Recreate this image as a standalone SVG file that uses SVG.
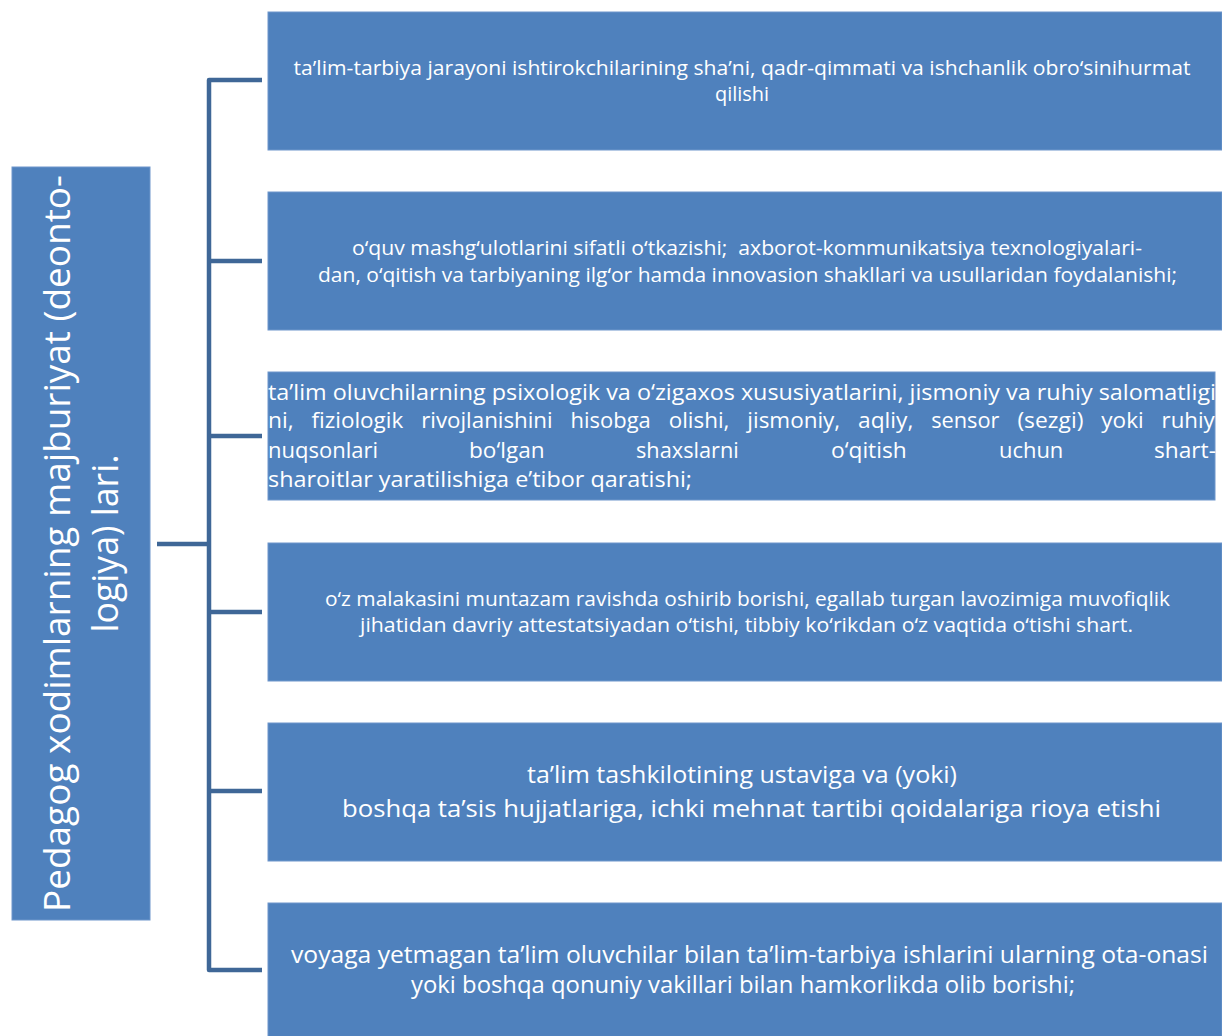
<svg xmlns="http://www.w3.org/2000/svg" width="1222" height="1036" viewBox="0 0 1222 1036">
<style>
.box{fill:#4F81BD;stroke:#6E96CB;stroke-width:1}
.t{font-family:"Open Sans","Liberation Sans",sans-serif;fill:#FFFFFF}
.c{text-anchor:middle}
.w{font-size:22px}
.conn{fill:none;stroke:#3F6797;stroke-width:4.5;stroke-linejoin:round}
</style>
<rect width="1222" height="1036" fill="#FFFFFF"/>
<g id="connectors">
<path class="conn" d="M157,544 H209"/>
<path class="conn" d="M262,80 H209 V970 H262"/>
<path class="conn" d="M209,261 H262"/>
<path class="conn" d="M209,436 H262"/>
<path class="conn" d="M209,612 H262"/>
<path class="conn" d="M209,791 H262"/>
</g>
<g id="root">
<rect class="box" x="12" y="167" width="138" height="753"/>
<text class="t" font-size="37" transform="translate(70,912) rotate(-90)" textLength="737" lengthAdjust="spacingAndGlyphs">Pedagog xodimlarning majburiyat (deonto-</text>
<text class="t c" font-size="37" transform="translate(118,543.5) rotate(-90)" textLength="178" lengthAdjust="spacingAndGlyphs">logiya) lari.</text>
</g>
<g id="n1">
<rect class="box" x="268" y="12" width="954" height="138"/>
<text class="t c" font-size="20" x="742" y="75" textLength="897" lengthAdjust="spacingAndGlyphs">ta’lim-tarbiya jarayoni ishtirokchilarining sha’ni, qadr-qimmati va ishchanlik obro‘sinihurmat</text>
<text class="t c" font-size="20" x="742" y="101" textLength="54" lengthAdjust="spacingAndGlyphs">qilishi</text>
</g>
<g id="n2">
<rect class="box" x="268" y="192" width="954" height="138"/>
<text class="t c" font-size="20" x="747" y="255" textLength="790" lengthAdjust="spacingAndGlyphs">o‘quv mashg‘ulotlarini sifatli o‘tkazishi;&#160; axborot-kommunikatsiya texnologiyalari-</text>
<text class="t c" font-size="20" x="747.5" y="282" textLength="859" lengthAdjust="spacingAndGlyphs">dan, o‘qitish va tarbiyaning ilg‘or hamda innovasion shakllari va usullaridan foydalanishi;</text>
</g>
<g id="n3">
<rect class="box" x="268" y="372" width="947" height="128"/>
<text class="t w" x="268" y="400" textLength="948" lengthAdjust="spacingAndGlyphs">ta’lim oluvchilarning psixologik va o‘zigaxos xususiyatlarini, jismoniy va ruhiy salomatligi</text>
<text class="t w" x="268" y="428" textLength="25.6" lengthAdjust="spacingAndGlyphs">ni,</text>
<text class="t w" x="311.5" y="428" textLength="91.7" lengthAdjust="spacingAndGlyphs">fiziologik</text>
<text class="t w" x="421.2" y="428" textLength="131.5" lengthAdjust="spacingAndGlyphs">rivojlanishini</text>
<text class="t w" x="570.6" y="428" textLength="80.2" lengthAdjust="spacingAndGlyphs">hisobga</text>
<text class="t w" x="668.7" y="428" textLength="60.7" lengthAdjust="spacingAndGlyphs">olishi,</text>
<text class="t w" x="747.3" y="428" textLength="92.9" lengthAdjust="spacingAndGlyphs">jismoniy,</text>
<text class="t w" x="858.1" y="428" textLength="55.2" lengthAdjust="spacingAndGlyphs">aqliy,</text>
<text class="t w" x="931.2" y="428" textLength="68.3" lengthAdjust="spacingAndGlyphs">sensor</text>
<text class="t w" x="1017.4" y="428" textLength="66" lengthAdjust="spacingAndGlyphs">(sezgi)</text>
<text class="t w" x="1101.3" y="428" textLength="42.4" lengthAdjust="spacingAndGlyphs">yoki</text>
<text class="t w" x="1161.6" y="428" textLength="53.1" lengthAdjust="spacingAndGlyphs">ruhiy</text>
<text class="t w" x="268" y="458" textLength="110" lengthAdjust="spacingAndGlyphs">nuqsonlari</text>
<text class="t w" x="469" y="458" textLength="75.6" lengthAdjust="spacingAndGlyphs">bo‘lgan</text>
<text class="t w" x="636" y="458" textLength="102.8" lengthAdjust="spacingAndGlyphs">shaxslarni</text>
<text class="t w" x="831" y="458" textLength="75.7" lengthAdjust="spacingAndGlyphs">o‘qitish</text>
<text class="t w" x="999" y="458" textLength="64.3" lengthAdjust="spacingAndGlyphs">uchun</text>
<text class="t w" x="1154" y="458" textLength="62" lengthAdjust="spacingAndGlyphs">shart-</text>
<text class="t w" x="268" y="487" textLength="424" lengthAdjust="spacingAndGlyphs">sharoitlar yaratilishiga e’tibor qaratishi;</text>
</g>
<g id="n4">
<rect class="box" x="268" y="543" width="954" height="138"/>
<text class="t c" font-size="20.5" x="747.5" y="606" textLength="845" lengthAdjust="spacingAndGlyphs">o‘z malakasini muntazam ravishda oshirib borishi, egallab turgan lavozimiga muvofiqlik</text>
<text class="t c" font-size="20.5" x="746.5" y="632" textLength="773" lengthAdjust="spacingAndGlyphs">jihatidan davriy attestatsiyadan o‘tishi, tibbiy ko‘rikdan o‘z vaqtida o‘tishi shart.</text>
</g>
<g id="n5">
<rect class="box" x="268" y="723" width="954" height="138"/>
<text class="t c" font-size="24.5" x="742" y="783" textLength="430" lengthAdjust="spacingAndGlyphs">ta’lim tashkilotining ustaviga va (yoki)</text>
<text class="t c" font-size="24.5" x="751.5" y="817" textLength="819" lengthAdjust="spacingAndGlyphs">boshqa ta’sis hujjatlariga, ichki mehnat tartibi qoidalariga rioya etishi</text>
</g>
<g id="n6">
<rect class="box" x="268" y="903" width="954" height="140"/>
<text class="t c" font-size="23.5" x="749.5" y="963" textLength="917" lengthAdjust="spacingAndGlyphs">voyaga yetmagan ta’lim oluvchilar bilan ta’lim-tarbiya ishlarini ularning ota-onasi</text>
<text class="t c" font-size="23.5" x="743" y="993" textLength="664" lengthAdjust="spacingAndGlyphs">yoki boshqa qonuniy vakillari bilan hamkorlikda olib borishi;</text>
</g>
</svg>
